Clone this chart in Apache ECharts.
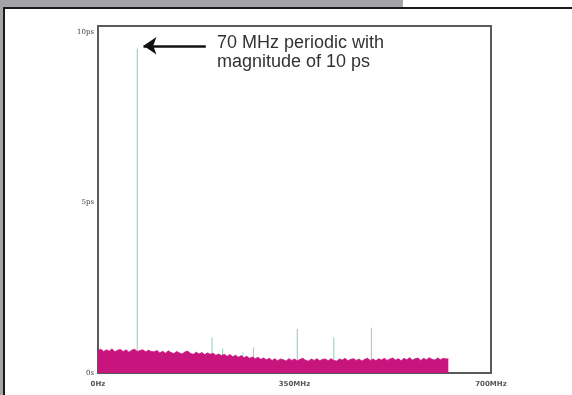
<!DOCTYPE html>
<html><head><meta charset="utf-8">
<script src="https://cdn.jsdelivr.net/npm/echarts@6/dist/echarts.min.js"></script>
<style>html,body{margin:0;padding:0;background:#fff}#c{width:572px;height:395px}</style>
</head><body><div id="c"></div>
<script>
// ---- data ----
const xTickLabels = {0: '0Hz', 350: '350MHz', 700: '700MHz'};
const yTickLabels = {0: '0s', 5: '5ps', 10: '10ps'};
// periodic jitter spikes: frequency (MHz) and magnitude (ps)
const spikeFreqs = [70, 203, 222, 258, 277, 355, 420, 487];
const spikeVals  = [9.52, 1.04, 0.72, 0.60, 0.75, 1.30, 1.04, 1.33];
// random-jitter noise floor, sampled every 5 MHz from 0 MHz, last sample at 624 MHz
const noiseStepMHz = 5;
const noiseVals = [
 0.66,0.70,0.63,0.68,0.64,0.71,0.62,0.67,0.69,0.63,0.68,0.61,0.67,0.70,0.63,0.66,0.68,0.62,0.67,0.63,0.62,
 0.66,0.59,0.64,0.58,0.65,0.60,0.57,0.63,0.59,0.56,0.62,0.64,0.57,0.55,0.61,0.56,0.60,0.54,0.59,0.55,
 0.58,0.52,0.56,0.51,0.55,0.49,0.54,0.48,0.52,0.46,0.51,0.45,0.49,0.43,0.47,0.42,0.46,0.40,0.44,0.39,
 0.43,0.37,0.42,0.36,0.41,0.39,0.35,0.42,0.37,0.41,0.36,0.40,0.43,0.37,0.35,0.41,0.37,0.42,0.36,0.40,
 0.41,0.36,0.42,0.37,0.35,0.41,0.38,0.43,0.36,0.40,0.42,0.37,0.41,0.35,0.40,0.43,0.37,0.41,0.36,0.42,
 0.38,0.43,0.37,0.41,0.44,0.38,0.42,0.36,0.43,0.39,0.45,0.38,0.42,0.44,0.37,0.43,0.39,0.45,0.40,0.38,0.44,0.39,0.43,0.41
];
const noiseEnd = [624, 0.42];
const annotationLines = ['70 MHz periodic with', 'magnitude of 10 ps'];

// ---- build ----
const noiseData = noiseVals.map((v, i) => [i * noiseStepMHz, v]);
noiseData.push(noiseEnd);
const spikeData = spikeFreqs.map((f, i) => [f, spikeVals[i]]);

const chart = echarts.init(document.getElementById('c'), null, {renderer: 'canvas'});
chart.setOption({
  animation: false,
  backgroundColor: '#fff',
  grid: {left: 98, top: 26, width: 393, height: 347, show: true, borderColor: '#5a5a5a', borderWidth: 2, backgroundColor: 'transparent'},
  xAxis: {
    type: 'value', min: 0, max: 700, interval: 350,
    axisLine: {show: false}, axisTick: {show: false}, splitLine: {show: false},
    axisLabel: {formatter: v => xTickLabels[v] || '', fontSize: 7, fontWeight: 'bold', color: '#555', margin: 8, fontFamily: 'DejaVu Sans'}
  },
  yAxis: {
    type: 'value', min: 0, max: 10.18, interval: 5,
    axisLine: {show: false}, axisTick: {show: false}, splitLine: {show: false},
    axisLabel: {formatter: v => yTickLabels[v] || '', fontSize: 7, color: '#444', margin: 4, fontFamily: 'DejaVu Serif', showMaxLabel: false}
  },
  series: [
    {
      type: 'bar', data: spikeData, barWidth: 1.2, z: 2,
      itemStyle: {color: '#9fd4c7'}, silent: true,
      markLine: {
        silent: true, symbol: ['none', 'arrow'], symbolSize: [13, 13],
        lineStyle: {color: '#111', width: 2.5, type: 'solid'},
        label: {show: false},
        data: [[{coord: [192, 9.6]}, {coord: [81, 9.6]}]]
      }
    },
    {
      type: 'line', data: noiseData, symbol: 'none', z: 3, silent: true,
      lineStyle: {color: '#c8157e', width: 0.8},
      areaStyle: {color: '#c8157e', opacity: 1}
    }
  ],
  graphic: [
    {type: 'rect', shape: {x: 0, y: 0, width: 403, height: 7}, style: {fill: '#a5a5a9'}, silent: true},
    {type: 'rect', shape: {x: 0, y: 0, width: 3, height: 395}, style: {fill: '#a5a5a9'}, silent: true},
    {type: 'rect', shape: {x: 3, y: 7, width: 569, height: 2}, style: {fill: '#1a1a1a'}, silent: true},
    {type: 'rect', shape: {x: 3, y: 7, width: 2, height: 388}, style: {fill: '#1a1a1a'}, silent: true},
    {type: 'text', left: 217, top: 34, style: {text: annotationLines.join('\n'), font: '18px "Liberation Sans", Arial, sans-serif', fill: '#333', lineHeight: 19}, silent: true}
  ]
});
</script></body></html>
